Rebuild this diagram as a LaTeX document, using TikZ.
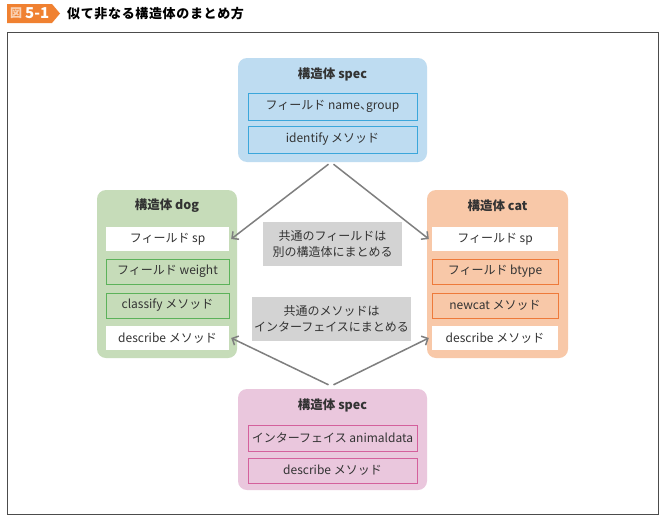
\documentclass[tikz,border=0pt]{standalone}
\usepackage{fontspec}
\setmainfont{Noto Sans CJK JP}
\usetikzlibrary{arrows.meta}
\definecolor{txt}{HTML}{333333}
\definecolor{bluef}{HTML}{BEDCF1}
\definecolor{blued}{HTML}{3BA6DB}
\definecolor{greenf}{HTML}{C6DCB9}
\definecolor{greend}{HTML}{5CB25A}
\definecolor{orangef}{HTML}{F8C8A8}
\definecolor{oranged}{HTML}{EE7A3A}
\definecolor{pinkf}{HTML}{EAC7DD}
\definecolor{pinkd}{HTML}{D4609C}
\definecolor{labelg}{HTML}{D3D3D3}
\definecolor{arrowg}{HTML}{7F7F7F}
\definecolor{bartitle}{HTML}{F08131}
\definecolor{barpale}{HTML}{FAD2B4}
\begin{document}
\begin{tikzpicture}[x=1pt,y=-1pt,
  outerbox/.style={draw=none, rounded corners=9pt, inner sep=0pt},
  ttl/.style={font=\fontsize{12.5}{14}\selectfont\bfseries, text=txt, inner sep=0pt},
  item/.style={line width=0.9pt, inner sep=0pt, font=\fontsize{12}{14}\selectfont, text=txt},
  plain/.style={fill=white, draw=none, inner sep=0pt, font=\fontsize{12}{14}\selectfont, text=txt},
  glabel/.style={fill=labelg, draw=none, inner sep=0pt, align=center, font=\fontsize{12}{16}\selectfont, text=txt},
  arr/.style={draw=arrowg, line width=1.5pt, -{Straight Barb[length=5pt,width=10pt,line width=1.5pt]}}
]
\useasboundingbox (0,0) rectangle (666,522);
\fill[white] (0,0) rectangle (666,522);
% title bar
\fill[bartitle] (7,4) -- (52,4) -- (60,13.5) -- (52,23) -- (7,23) -- cycle;
\node[anchor=west, inner sep=0pt, font=\fontsize{12}{13}\selectfont\bfseries, text=barpale] (zu) at (10,13.5) {図};
\node[anchor=west, inner sep=0pt, font=\fontsize{15}{16}\selectfont\bfseries, text=white] (num) at (25,13.5) {5-1};
\node[anchor=west, inner sep=0pt, font=\fontsize{13}{15}\selectfont\bfseries\addfontfeature{LetterSpace=5}, text=black] (title) at (67,14) {似て非なる構造体のまとめ方};
% frame
\draw[draw=black!70, line width=1pt] (7,32) rectangle (658,514);

% top spec
\node[outerbox, fill=bluef, minimum width=189pt, minimum height=104pt] (spec) at (332.5,110) {};
\node[ttl] (specT) at (332.5,74) {構造体 spec};
\node[item, draw=blued, minimum width=169pt, minimum height=27pt] (specA) at (332.5,106.5) {フィールド name、\kern-0.5em group};
\node[item, draw=blued, minimum width=169pt, minimum height=27pt] (specB) at (332.5,139.5) {identify メソッド};

% dog
\node[outerbox, fill=greenf, minimum width=140pt, minimum height=168pt] (dog) at (167,274) {};
\node[ttl] (dogT) at (167,206) {構造体 dog};
\node[plain, minimum width=123pt, minimum height=24pt] (dogA) at (167.5,239) {フィールド sp};
\node[item, draw=greend, minimum width=123pt, minimum height=25pt] (dogB) at (167.5,271.5) {フィールド weight};
\node[item, draw=greend, minimum width=123pt, minimum height=25pt] (dogC) at (167.5,305.5) {classify メソッド};
\node[plain, minimum width=123pt, minimum height=24pt] (dogD) at (167.5,338) {describe メソッド};

% cat
\node[outerbox, fill=orangef, minimum width=141pt, minimum height=168pt] (cat) at (497.5,274) {};
\node[ttl] (catT) at (497.5,206) {構造体 cat};
\node[plain, minimum width=126pt, minimum height=24pt] (catA) at (495,239) {フィールド sp};
\node[item, draw=oranged, minimum width=126pt, minimum height=25pt] (catB) at (495,271.5) {フィールド btype};
\node[item, draw=oranged, minimum width=126pt, minimum height=25pt] (catC) at (495,305.5) {newcat メソッド};
\node[plain, minimum width=126pt, minimum height=24pt] (catD) at (495,338) {describe メソッド};

% bottom spec
\node[outerbox, fill=pinkf, minimum width=189pt, minimum height=101pt] (spec2) at (332.5,439.5) {};
\node[ttl] (spec2T) at (332.5,405) {構造体 spec};
\node[item, draw=pinkd, minimum width=169pt, minimum height=26pt] (spec2A) at (332.5,438) {インターフェイス animaldata};
\node[item, draw=pinkd, minimum width=169pt, minimum height=25pt] (spec2B) at (332.5,470.5) {describe メソッド};

% labels
\node[glabel, minimum width=139pt, minimum height=44pt] (lab1) at (332.5,244) {共通のフィールドは\\別の構造体にまとめる};
\node[glabel, minimum width=159pt, minimum height=44pt] (lab2) at (331.5,319) {共通のメソッドは\\インターフェイスにまとめる};

% arrows
\draw[arr] ([shift={(-4,2)}]spec.south) -- ([xshift=2pt]dogA.east);
\draw[arr] ([shift={(1,2)}]spec.south) -- ([xshift=-3pt]catA.west);
\draw[arr] ([shift={(-4,-4)}]spec2.north) -- ([xshift=2pt]dogD.east);
\draw[arr] ([shift={(1,-4)}]spec2.north) -- ([xshift=-3pt]catD.west);
\end{tikzpicture}
\end{document}
